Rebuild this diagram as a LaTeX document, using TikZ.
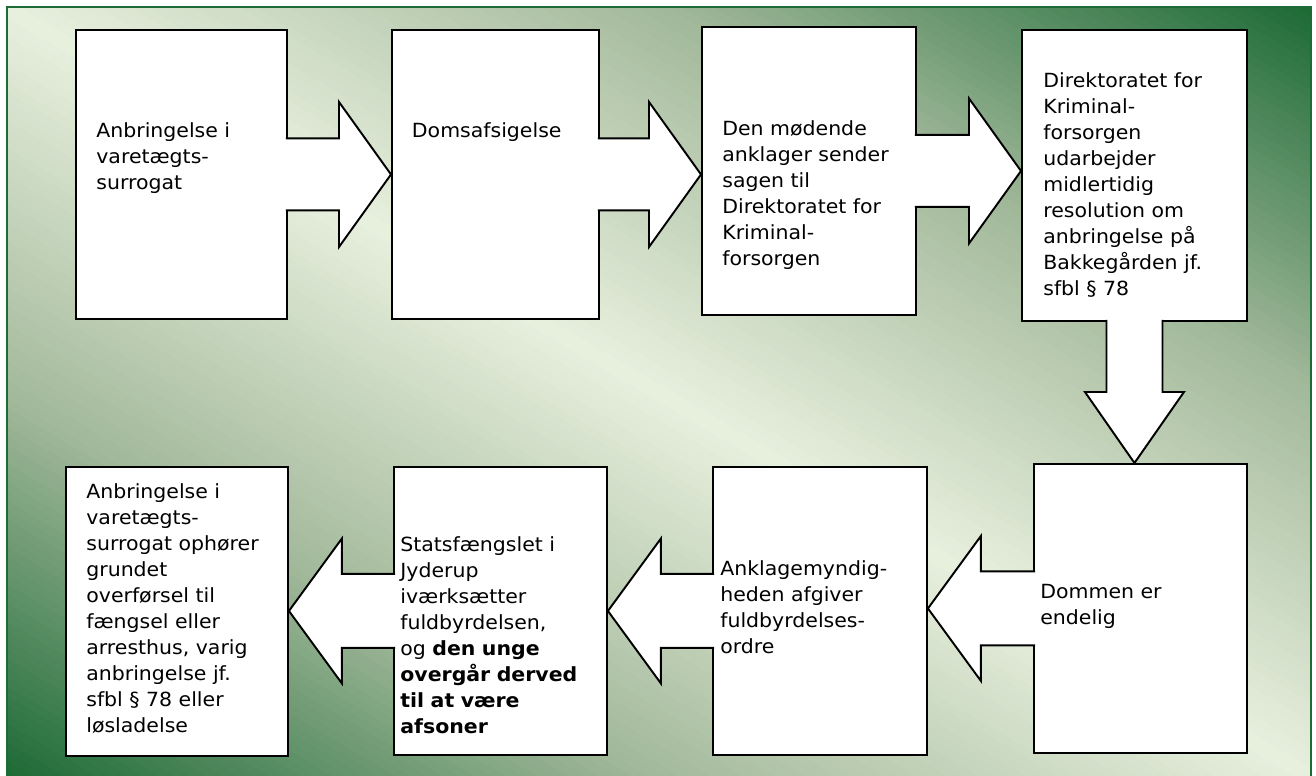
\documentclass[tikz,border=0pt]{standalone}
\usepackage{fontspec}
\setmainfont{DejaVu Sans}[FakeStretch=1.05]
\usepackage{tikz}
\usetikzlibrary{calc,positioning}

\definecolor{bglight}{HTML}{E8F0DE}
\definecolor{bgmid}{HTML}{A3B99B}
\definecolor{bgdark}{HTML}{1C6A35}
\definecolor{framegreen}{HTML}{1D6B36}

\tikzset{
  box/.style 2 args={draw,fill=white,line width=1.1pt,inner sep=0pt,anchor=north west,
    minimum width=#1*0.02cm,minimum height=#2*0.02cm},
  txt/.style={inner sep=0pt,anchor=base west,align=left,text width=4.3cm,
    font=\fontsize{11.1}{14.74}\selectfont},
  blk/.style={fill=white,draw=black,line width=1.1pt,line join=miter}
}

% block arrows between two boxes
\newcommand\blkright[2]{%
  \coordinate (tip) at (#1.east -| #2.west);
  \filldraw[blk] ($(#1.east)+(-2,-36)$) -- ($(tip)+(-52,-36)$) -- ($(tip)+(-52,-72.5)$)
    -- (tip) -- ($(tip)+(-52,72.5)$) -- ($(tip)+(-52,36)$) -- ($(#1.east)+(-2,36)$);}
\newcommand\blkleft[2]{%
  \coordinate (tip) at (#1.west -| #2.east);
  \filldraw[blk] ($(#1.west)+(2,-37)$) -- ($(tip)+(53,-37)$) -- ($(tip)+(53,-72.5)$)
    -- (tip) -- ($(tip)+(53,72.5)$) -- ($(tip)+(53,37)$) -- ($(#1.west)+(2,37)$);}
\newcommand\blkdown[2]{%
  \coordinate (tip) at (#1.south |- #2.north);
  \filldraw[blk] ($(#1.south)+(-28,-2)$) -- ($(tip)+(-28,-71)$) -- ($(tip)+(-49.5,-71)$)
    -- (tip) -- ($(tip)+(49.5,-71)$) -- ($(tip)+(28,-71)$) -- ($(#1.south)+(28,-2)$);}

\begin{document}
\begin{tikzpicture}[x=0.02cm,y=-0.02cm]
  \useasboundingbox (0,0) rectangle (1316,776);
  % background
  \begin{scope}
    \clip (7,7) rectangle (1311,780);
    \begin{scope}[shift={(659,393)},rotate=-30.5]
      \foreach \t in {-688,-680,...,680}{
        \pgfmathsetmacro\a{min(abs(\t+4)/663,1)}
        \pgfmathsetmacro\p{\a<0.5 ? 200*\a : 200*\a-100}
        \ifdim\a pt<0.5pt\def\shadecol{bgmid!\p!bglight}\else\def\shadecol{bgdark!\p!bgmid}\fi
        \fill[\shadecol] (-820,\t) rectangle (820,\t+8.7);
      }
    \end{scope}
  \end{scope}
  \draw[framegreen,line width=1.4pt] (7,7) rectangle (1311,780);

  % boxes
  \node[box={211}{289}] (surrogat) at (75,29) {};
  \node[box={207}{289}] (doms) at (391,29) {};
  \node[box={214}{288}] (anklager) at (701,26) {};
  \node[box={225}{291}] (direktorat) at (1021,29) {};
  \node[box={213}{289}] (endelig) at (1033,463) {};
  \node[box={214}{288}] (ordre) at (712,466) {};
  \node[box={213}{288}] (jyderup) at (393,466) {};
  \node[box={222}{289}] (ophoer) at (65,466) {};

  % arrows
  \blkright{surrogat}{doms}
  \blkright{doms}{anklager}
  \blkright{anklager}{direktorat}
  \blkdown{direktorat}{endelig}
  \blkleft{endelig}{ordre}
  \blkleft{ordre}{jyderup}
  \blkleft{jyderup}{ophoer}

  % texts
  \node[txt] (surrogat-txt) at ($(surrogat.north west)+(21,109)$) {Anbringelse i\\varetægts-\\surrogat};
  \node[txt] (doms-txt) at ($(doms.north west)+(20.6,109)$) {Domsafsigelse};
  \node[txt] (anklager-txt) at ($(anklager.north west)+(21,110)$) {Den mødende\\anklager sender\\sagen til\\Direktoratet for\\Kriminal-\\forsorgen};
  \node[txt] (direktorat-txt) at ($(direktorat.north west)+(22,59)$) {Direktoratet for\\Kriminal-\\forsorgen\\udarbejder\\midlertidig\\resolution om\\anbringelse på\\Bakkegården jf.\\sfbl § 78};
  \node[txt] (endelig-txt) at ($(endelig.north west)+(7,136)$) {Dommen er\\endelig};
  \node[txt] (ordre-txt) at ($(ordre.north west)+(8,110)$) {Anklagemyndig-\\heden afgiver\\fuldbyrdelses-\\ordre};
  \node[txt] (jyderup-txt) at ($(jyderup.north west)+(7,86)$) {Statsfængslet i\\Jyderup\\iværksætter\\fuldbyrdelsen,\\og \textbf{den unge}\\\textbf{overgår derved}\\\textbf{til at være}\\\textbf{afsoner}};
  \node[txt] (ophoer-txt) at ($(ophoer.north west)+(21,33)$) {Anbringelse i\\varetægts-\\surrogat ophører\\grundet\\overførsel til\\fængsel eller\\arresthus, varig\\anbringelse jf.\\sfbl § 78 eller\\løsladelse};
\end{tikzpicture}
\end{document}
